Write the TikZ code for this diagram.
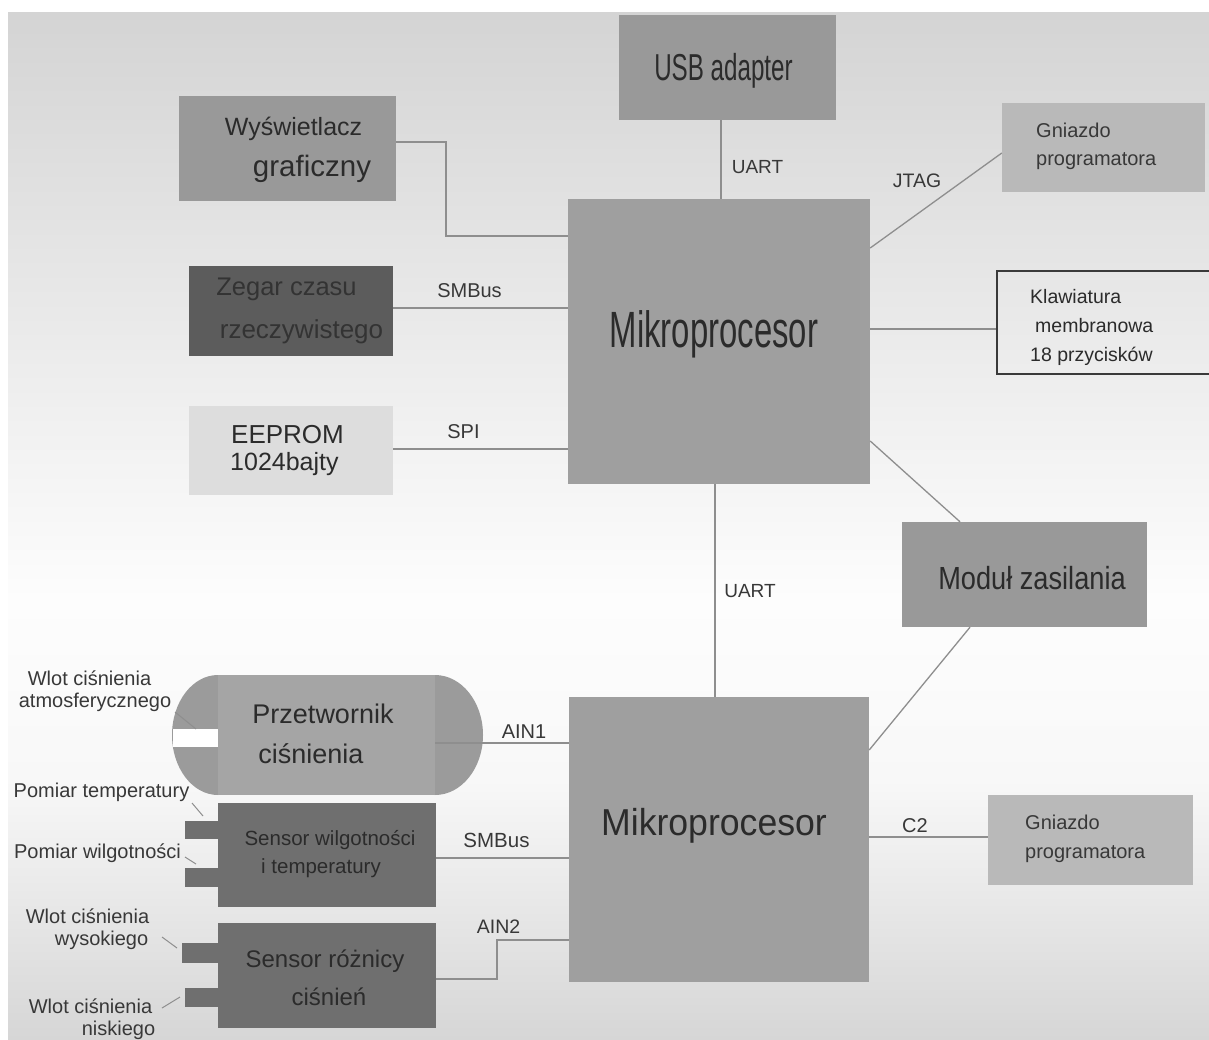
\documentclass[tikz,border=0pt]{standalone}
\usepackage{fontspec}
\setmainfont{Liberation Sans}
\newfontfamily\narrowA[FakeStretch=0.645]{Liberation Sans}
\newfontfamily\narrowB[FakeStretch=0.85]{Liberation Sans}
\newfontfamily\narrowC[FakeStretch=0.95]{Liberation Sans}
\newcommand\fsz[1]{\fontsize{#1}{#1}\selectfont}
\definecolor{bgtop}{HTML}{D4D4D4}
\definecolor{bgmid}{HTML}{FDFDFD}
\definecolor{bgmid2}{HTML}{F8F8F8}
\definecolor{bgbot}{HTML}{D6D6D6}
\definecolor{boxA}{HTML}{999999}
\definecolor{boxMik}{HTML}{9F9F9F}
\definecolor{boxDark}{HTML}{5C5C5C}
\definecolor{boxLight}{HTML}{DDDDDD}
\definecolor{boxGn}{HTML}{B9B9B9}
\definecolor{boxSens}{HTML}{6F6F6F}
\definecolor{boxPrz}{HTML}{A5A5A5}
\definecolor{boxCap}{HTML}{9B9B9B}
\definecolor{txtBox}{HTML}{2B2B2B}
\definecolor{txtLab}{HTML}{383838}
\definecolor{lineC}{HTML}{8E8E8E}
\definecolor{klawBorder}{HTML}{3A3A3A}
\tikzset{
  blk/.style={rectangle, inner sep=0pt, draw=none},
  conn/.style={draw=lineC, line width=1.3pt},
  lead/.style={draw=lineC, line width=1pt},
  txt/.style={anchor=base, inner sep=0pt, text=txtBox},
  ltxt/.style={anchor=base west, inner sep=0pt, text=txtLab},
  lab/.style={anchor=base, inner sep=0pt, text=txtLab, font=\fsz{20}},
}
\begin{document}
\begin{tikzpicture}[x=1pt, y=-1pt]
\useasboundingbox (0,0) rectangle (1209,1039);
% background
\fill[white] (0,0) rectangle (1209,1039);
\shade[top color=bgtop, bottom color=bgmid] (8,12) rectangle (1209,600);
\shade[top color=bgmid, bottom color=bgmid2] (8,600) rectangle (1209,780);
\shade[top color=bgmid2, bottom color=bgbot] (8,780) rectangle (1209,1039);

% ---- blocks
\node[blk, fill=boxA, minimum width=217pt, minimum height=105pt] (usb) at (727.5,67.5) {};
\node[blk, fill=boxA, minimum width=217pt, minimum height=105pt] (wys) at (287.5,148.5) {};
\node[blk, fill=boxDark, minimum width=204pt, minimum height=90pt] (rtc) at (291,311) {};
\node[blk, fill=boxLight, minimum width=204pt, minimum height=89pt] (eep) at (291,450.5) {};
\node[blk, fill=boxMik, minimum width=302pt, minimum height=285pt] (mtop) at (719,341.5) {};
\node[blk, fill=boxGn, minimum width=203pt, minimum height=89pt] (gn1) at (1103.5,147.5) {};
\node[blk, draw=klawBorder, line width=1.6pt, minimum width=218pt, minimum height=103pt] (klaw) at (1106,322.5) {};
\node[blk, fill=boxA, minimum width=245pt, minimum height=105pt] (mod) at (1024.5,574.5) {};
\node[blk, fill=boxMik, minimum width=300pt, minimum height=285pt] (mbot) at (719,839.5) {};
\node[blk, fill=boxGn, minimum width=205pt, minimum height=90pt] (gn2) at (1090.5,840) {};

% pressure transducer (rounded ends)
\fill[boxCap] (218,735) ellipse [x radius=46pt, y radius=60pt];
\fill[boxCap] (435,735) ellipse [x radius=48pt, y radius=60pt];
\node[blk, fill=boxPrz, minimum width=217pt, minimum height=120pt] (prz) at (326.5,735) {};
\fill[white] (173,729) rectangle (218,747);

% sensor tabs
\fill[boxSens] (185,821) rectangle (218,839);
\fill[boxSens] (185,868) rectangle (218,887);
\fill[boxSens] (182,943) rectangle (218,963);
\fill[boxSens] (185,988) rectangle (218,1007);
\node[blk, fill=boxSens, minimum width=218pt, minimum height=104pt] (sw) at (327,855) {};
\node[blk, fill=boxSens, minimum width=218pt, minimum height=105pt] (sr) at (327,975.5) {};

% ---- block texts
\node[txt, font=\narrowA\fsz{37.5}] (usbT) at (723.5,80) {USB adapter};
\node[txt, font=\fsz{25}] (wysT1) at (293.5,135) {Wyświetlacz};
\node[txt, font=\fsz{29.5}] (wysT2) at (312,176) {graficzny};
\node[txt, font=\fsz{25.5}, text=black!80] (rtcT1) at (286.5,295) {Zegar czasu};
\node[txt, font=\fsz{26}, text=black!80] (rtcT2) at (301.5,338) {rzeczywistego};
\node[txt, font=\fsz{26}] (eepT1) at (287.5,443) {EEPROM};
\node[anchor=base west, inner sep=0pt, text=txtBox, font=\fsz{25}] (eepT2) at (230,470) {1024bajty};
\node[txt, font=\narrowA\fsz{51}] (mtopT) at (714,347) {Mikroprocesor};
\node[ltxt, font=\fsz{20}] (gn1T1) at (1036,137) {Gniazdo};
\node[ltxt, font=\fsz{20}] (gn1T2) at (1036,165) {programatora};
\node[ltxt, font=\fsz{19.5}, text=txtBox] (klawT1) at (1030,303) {Klawiatura};
\node[ltxt, font=\fsz{19.5}, text=txtBox] (klawT2) at (1035,332) {membranowa};
\node[ltxt, font=\fsz{19.5}, text=txtBox] (klawT3) at (1030,361) {18 przycisków};
\node[txt, font=\narrowB\fsz{32}] (modT) at (1032,589) {Moduł zasilania};
\node[txt, font=\narrowC\fsz{37.5}] (mbotT) at (714,835) {Mikroprocesor};
\node[ltxt, font=\fsz{20}] (gn2T1) at (1025,829) {Gniazdo};
\node[ltxt, font=\fsz{20}] (gn2T2) at (1025,858) {programatora};
\node[txt, font=\fsz{27}] (przT1) at (323,723) {Przetwornik};
\node[txt, font=\fsz{27}] (przT2) at (311,763) {ciśnienia};
\node[txt, font=\fsz{20.5}] (swT1) at (330,845) {Sensor wilgotności};
\node[txt, font=\fsz{20.5}] (swT2) at (321,873) {i temperatury};
\node[txt, font=\fsz{24}] (srT1) at (325,967) {Sensor różnicy};
\node[txt, font=\fsz{24}] (srT2) at (329,1005) {ciśnień};

% ---- connectors
\draw[conn] (wys.east |- 0,142) -- (446,142) -- (446,236) -- (mtop.west |- 0,236);
\draw[conn] (rtc.east |- 0,308) -- (mtop.west |- 0,308);
\draw[conn] (eep.east |- 0,449) -- (mtop.west |- 0,449);
\draw[conn] (usb.south -| 721,0) -- (mtop.north -| 721,0);
\draw[conn] (mtop.east |- 0,248) -- (gn1.west |- 0,153);
\draw[conn] (mtop.east |- 0,329) -- (klaw.west |- 0,329);
\draw[conn] (mtop.east |- 0,441) -- (mod.north -| 960,0);
\draw[conn] (mod.south -| 970,0) -- (mbot.east |- 0,750);
\draw[conn] (mtop.south -| 715,0) -- (mbot.north -| 715,0);
\draw[conn] (prz.east |- 0,743) -- (mbot.west |- 0,743);
\draw[conn] (sw.east |- 0,858) -- (mbot.west |- 0,858);
\draw[conn] (sr.east |- 0,979) -- (497,979) -- (497,940) -- (mbot.west |- 0,940);
\draw[conn] (mbot.east |- 0,837) -- (gn2.west |- 0,837);

% ---- connector labels
\node[lab, font=\fsz{19}] (l1) at (757.5,173) {UART};
\node[lab, font=\fsz{19.5}] (l2) at (917,187) {JTAG};
\node[lab] (l3) at (469.5,297) {SMBus};
\node[lab] (l4) at (463.5,438) {SPI};
\node[lab, font=\fsz{19}] (l5) at (750,597) {UART};
\node[lab] (l6) at (524,738) {AIN1};
\node[lab, font=\fsz{20.5}] (l7) at (496.5,847) {SMBus};
\node[lab, font=\fsz{19.5}] (l8) at (498.5,933) {AIN2};
\node[lab] (l9) at (915,832) {C2};

% ---- side labels with leaders
\node[lab] (a1) at (89.5,685) {Wlot ciśnienia};
\node[lab] (a2) at (95,707) {atmosferycznego};
\coordinate (a2e) at (175,712);
\draw[lead] (a2e) -- (196,729);
\node[lab] (t1) at (101.5,797) {Pomiar temperatury};
\coordinate (t1e) at (192,803);
\draw[lead] (t1e) -- (203,816);
\node[lab] (w1) at (97.5,858) {Pomiar wilgotności};
\coordinate (w1e) at (185,857);
\draw[lead] (w1e) -- (196,864);
\node[lab] (h1) at (87.5,923) {Wlot ciśnienia};
\node[lab] (h2) at (101.5,945) {wysokiego};
\coordinate (h2e) at (162,937);
\draw[lead] (h2e) -- (177,948);
\node[lab] (n1) at (90.5,1013) {Wlot ciśnienia};
\node[lab] (n2) at (118.5,1035) {niskiego};
\coordinate (n1e) at (162,1008);
\draw[lead] (n1e) -- (180,997);
\end{tikzpicture}
\end{document}
